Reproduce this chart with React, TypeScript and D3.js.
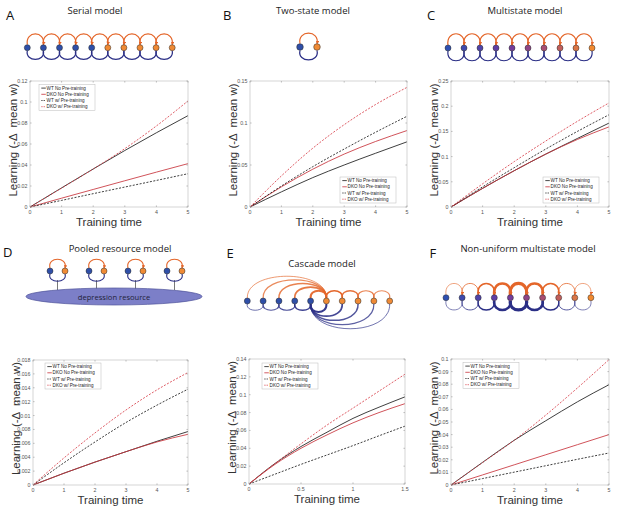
import * as d3 from 'd3';

// ---------- data ----------
const timeFull = [0, 1, 2, 3, 4, 5];
const timeCascade = [0, 0.25, 0.5, 0.75, 1, 1.25, 1.5];
const legendLabels = ['WT No Pre-training', 'DKO No Pre-training', 'WT w/ Pre-training', 'DKO w/ Pre-training'];

// A serial model
const serialWtNo = [0, 0.0182, 0.0362, 0.0538, 0.0707, 0.087];
const serialDkoNo = [0, 0.0084, 0.0167, 0.025, 0.0332, 0.0413];
const serialWtPre = [0, 0.0063, 0.0127, 0.019, 0.0253, 0.0317];
const serialDkoPre = [0, 0.018, 0.0362, 0.0556, 0.0772, 0.101];
// B two-state model
const twoWtNo = [0, 0.018, 0.035, 0.05, 0.064, 0.0776];
const twoDkoNo = [0, 0.024, 0.045, 0.063, 0.078, 0.091];
const twoWtPre = [0, 0.025, 0.048, 0.069, 0.089, 0.108];
const twoDkoPre = [0, 0.037, 0.07, 0.098, 0.122, 0.1424];
// C multistate model
const multiWtNo = [0, 0.037, 0.072, 0.105, 0.136, 0.1665];
const multiDkoNo = [0, 0.037, 0.072, 0.105, 0.134, 0.159];
const multiWtPre = [0, 0.04, 0.078, 0.115, 0.15, 0.183];
const multiDkoPre = [0, 0.046, 0.09, 0.131, 0.17, 0.2065];
// D pooled resource model
const pooledWtNo = [0, 0.0017, 0.0033, 0.0048, 0.0063, 0.0077];
const pooledDkoNo = [0, 0.0017, 0.0033, 0.0048, 0.0062, 0.0073];
const pooledWtPre = [0, 0.0032, 0.0062, 0.009, 0.0115, 0.0138];
const pooledDkoPre = [0, 0.0039, 0.0075, 0.0108, 0.0137, 0.0162];
// E cascade model
const cascadeWtNo = [0, 0.023, 0.042, 0.058, 0.0735, 0.086, 0.0976];
const cascadeDkoNo = [0, 0.022, 0.04, 0.055, 0.0685, 0.08, 0.09];
const cascadeWtPre = [0, 0.011, 0.022, 0.0325, 0.043, 0.054, 0.0648];
const cascadeDkoPre = [0, 0.023, 0.045, 0.066, 0.085, 0.104, 0.123];
// F non-uniform multistate model
const nonuWtNo = [0, 0.018, 0.0355, 0.051, 0.066, 0.0796];
const nonuDkoNo = [0, 0.008, 0.016, 0.024, 0.032, 0.04];
const nonuWtPre = [0, 0.0051, 0.0102, 0.0153, 0.0204, 0.0254];
const nonuDkoPre = [0, 0.0178, 0.0355, 0.0555, 0.077, 0.0995];

const ticksX5 = [0, 1, 2, 3, 4, 5];
const ticksX15 = [0, 0.5, 1, 1.5];
const ticksA = [0, 0.02, 0.04, 0.06, 0.08, 0.1, 0.12];
const ticksB = [0, 0.05, 0.1, 0.15];
const ticksC = [0, 0.05, 0.1, 0.15, 0.2, 0.25];
const ticksD = [0, 0.002, 0.004, 0.006, 0.008, 0.01, 0.012, 0.014, 0.016, 0.018];
const ticksE = [0, 0.02, 0.04, 0.06, 0.08, 0.1, 0.12, 0.14];
const ticksF = [0, 0.01, 0.02, 0.03, 0.04, 0.05, 0.06, 0.07, 0.08, 0.09, 0.1];

// state diagrams
const serialStates = 10;
const multiStates = 10;
const cascadeStates = 10;
const pooledUnits = 4;
const nonuUpWidths = [0.6, 0.8, 1.6, 2.6, 3.2, 2.6, 1.6, 0.8, 0.6];
const nonuDownWidths = [0.6, 0.8, 1.4, 2.6, 3.2, 2.6, 1.4, 0.8, 0.6];

const BLUE = '#2f4fa8';
const ORANGE = '#ef8a35';
const ARC_O = '#e4662a';
const ARC_B = '#2b2f86';

const lineStyles = [
  { color: '#1c1c1c', dash: undefined },
  { color: '#c8343c', dash: undefined },
  { color: '#1c1c1c', dash: '2 1.5' },
  { color: '#d8404a', dash: '2 1.5' },
];

type PanelCfg = {
  box: [number, number, number, number];
  times: number[];
  xMax: number;
  xTicks: number[];
  yTicks: number[];
  series: number[][];
  legend: [number, number];
};

const panels: PanelCfg[] = [
  { box: [30, 81, 188, 207], times: timeFull, xMax: 5, xTicks: ticksX5, yTicks: ticksA,
    series: [serialWtNo, serialDkoNo, serialWtPre, serialDkoPre], legend: [9, 3.5] },
  { box: [250, 81, 407, 207], times: timeFull, xMax: 5, xTicks: ticksX5, yTicks: ticksB,
    series: [twoWtNo, twoDkoNo, twoWtPre, twoDkoPre], legend: [90, 96] },
  { box: [451, 81, 609, 207], times: timeFull, xMax: 5, xTicks: ticksX5, yTicks: ticksC,
    series: [multiWtNo, multiDkoNo, multiWtPre, multiDkoPre], legend: [92, 96] },
  { box: [33, 360, 188, 485], times: timeFull, xMax: 5, xTicks: ticksX5, yTicks: ticksD,
    series: [pooledWtNo, pooledDkoNo, pooledWtPre, pooledDkoPre], legend: [12, 3] },
  { box: [249, 359, 405, 484], times: timeCascade, xMax: 1.5, xTicks: ticksX15, yTicks: ticksE,
    series: [cascadeWtNo, cascadeDkoNo, cascadeWtPre, cascadeDkoPre], legend: [13, 4] },
  { box: [451, 359, 609, 485], times: timeFull, xMax: 5, xTicks: ticksX5, yTicks: ticksF,
    series: [nonuWtNo, nonuDkoNo, nonuWtPre, nonuDkoPre], legend: [12, 3.5] },
];

const headers = [
  { letter: 'A', lx: 6, ly: 20, title: 'Serial model', tx: 95, ty: 14 },
  { letter: 'B', lx: 223, ly: 19.5, title: 'Two-state model', tx: 313, ty: 14 },
  { letter: 'C', lx: 427, ly: 19.5, title: 'Multistate model', tx: 525, ty: 14 },
  { letter: 'D', lx: 3, ly: 256.5, title: 'Pooled resource model', tx: 120, ty: 251.5 },
  { letter: 'E', lx: 226.5, ly: 258, title: 'Cascade model', tx: 322, ty: 267 },
  { letter: 'F', lx: 429.5, ly: 258, title: 'Non-uniform multistate model', tx: 528, ty: 252 },
];

const fmt = d3.format('~g');

function Plot({ p }: { p: PanelCfg }) {
  const [l, t, r, b] = p.box;
  const yMax = p.yTicks[p.yTicks.length - 1];
  const x = d3.scaleLinear().domain([0, p.xMax]).range([l, r]);
  const y = d3.scaleLinear().domain([0, yMax]).range([b, t]);
  const line = d3.line<number>()
    .x((_, i) => x(p.times[i]))
    .y(d => y(d))
    .curve(d3.curveMonotoneX);
  const tk = 1.6;
  const [lx, ly] = [l + p.legend[0], t + p.legend[1]];

  return (
    <g>
      <rect x={l} y={t} width={r - l} height={b - t} fill="#fff" />
      {p.series.map((s, i) => (
        <path key={i} d={line(s) || ''} fill="none" stroke={lineStyles[i].color}
          strokeWidth={0.85} strokeDasharray={lineStyles[i].dash} />
      ))}
      <rect x={l} y={t} width={r - l} height={b - t} fill="none" stroke="#b8b8b8" strokeWidth={0.6} />
      {p.xTicks.map(v => (
        <g key={'x' + v}>
          <line x1={x(v)} x2={x(v)} y1={b} y2={b - tk} stroke="#888" strokeWidth={0.5} />
          <line x1={x(v)} x2={x(v)} y1={t} y2={t + tk} stroke="#888" strokeWidth={0.5} />
          <text x={x(v)} y={b + 6.5} fontSize={5.3} fill="#555" textAnchor="middle">{fmt(v)}</text>
        </g>
      ))}
      {p.yTicks.map(v => (
        <g key={'y' + v}>
          <line x1={l} x2={l + tk} y1={y(v)} y2={y(v)} stroke="#888" strokeWidth={0.5} />
          <line x1={r} x2={r - tk} y1={y(v)} y2={y(v)} stroke="#888" strokeWidth={0.5} />
          <text x={l - 2.5} y={y(v)} fontSize={5.3} fill="#555" textAnchor="end" dominantBaseline="central">{fmt(v)}</text>
        </g>
      ))}
      <g>
        <rect x={lx} y={ly} width={56} height={26} fill="#fff" stroke="#bbb" strokeWidth={0.5} />
        {legendLabels.map((lab, i) => (
          <g key={lab}>
            <line x1={lx + 2.3} x2={lx + 6.8} y1={ly + 3.6 + 6.2 * i} y2={ly + 3.6 + 6.2 * i}
              stroke={lineStyles[i].color} strokeWidth={0.8} strokeDasharray={lineStyles[i].dash ? '1.3 1' : undefined} />
            <text x={lx + 7.6} y={ly + 3.6 + 6.2 * i} fontSize={4.6} fill="#222" dominantBaseline="central">{lab}</text>
          </g>
        ))}
      </g>
      <text transform={`translate(${l - 17},${(t + b) / 2 - 4}) rotate(-90)`} textAnchor="middle"
        dominantBaseline="central" fontSize={11.5} fill="#333" style={{ whiteSpace: 'pre' }}>
        {'Learning (-Δ  mean w)'}
      </text>
      <text x={(l + r) / 2} y={b + 19} textAnchor="middle" fontSize={11.5} fill="#333">Training time</text>
    </g>
  );
}

// arc above from a to b (left to right), arc below from b back to a
function arcUp(xa: number, xb: number, cy: number, r: number, h: number, bulge: number) {
  const c = h / 0.75;
  const s = xb > xa ? 1 : -1;
  return `M${xa},${cy - r} C${xa - s * bulge},${cy - c} ${xb + s * bulge},${cy - c} ${xb},${cy - r}`;
}
function arcDown(xa: number, xb: number, cy: number, r: number, h: number, bulge: number) {
  const c = h / 0.75;
  const s = xb > xa ? 1 : -1;
  return `M${xa},${cy + r} C${xa - s * bulge},${cy + c} ${xb + s * bulge},${cy + c} ${xb},${cy + r}`;
}

function Circles({ xs, cy, colors, r = 3 }: { xs: number[]; cy: number; colors: string[]; r?: number }) {
  return (
    <g>
      {xs.map((cx, i) => (
        <circle key={i} cx={cx} cy={cy} r={r} fill={colors[i]} stroke="#2a2a2a" strokeWidth={0.5} />
      ))}
    </g>
  );
}

function Chain({ x0, step, n, cy, colors, up, down, upW, downW }: {
  x0: number; step: number; n: number; cy: number; colors: string[]; up: number; down: number;
  upW?: number[]; downW?: number[];
}) {
  const xs = d3.range(n).map(i => x0 + i * step);
  const r = 3;
  return (
    <g>
      {d3.range(n - 1).map(i => (
        <path key={'u' + i} d={arcUp(xs[i], xs[i + 1], cy, r, up, step * 0.14)} fill="none"
          stroke={ARC_O} strokeWidth={upW ? upW[i] : 1.2} markerEnd="url(#arrO)" />
      ))}
      {d3.range(n - 1).map(i => (
        <path key={'d' + i} d={arcDown(xs[i + 1], xs[i], cy, r, down, step * 0.14)} fill="none"
          stroke={ARC_B} strokeWidth={downW ? downW[i] : 1.2} />
      ))}
      <Circles xs={xs} cy={cy} colors={colors} />
    </g>
  );
}

const gradient = d3.scaleLinear<string>()
  .domain([0, 0.4, 0.7, 1])
  .range(['#2f4fb0', '#6a3aa2', '#b0506c', '#f28a30']);

function TwoState() {
  const xs = [300, 317];
  const cy = 47;
  return (
    <g>
      <path d={arcUp(xs[0], xs[1], cy, 3.3, 13, 3)} fill="none" stroke={ARC_O} strokeWidth={1.2} markerEnd="url(#arrO)" />
      <path d={arcDown(xs[1], xs[0], cy, 3.3, 12, 3)} fill="none" stroke={ARC_B} strokeWidth={1.2} />
      <Circles xs={xs} cy={cy} colors={[BLUE, ORANGE]} r={3.3} />
    </g>
  );
}

function Pooled() {
  const cy = 271;
  const bx = d3.range(pooledUnits).map(i => 50 + i * 39);
  return (
    <g>
      {bx.map((x, i) => (
        <line key={'s' + i} x1={x + 7.5} x2={x + 7.5} y1={cy + 9} y2={cy + 19} stroke="#555" strokeWidth={0.8} />
      ))}
      <ellipse cx={114} cy={296.5} rx={88} ry={8.5} fill="#7c7fc8" stroke="#4d5199" strokeWidth={0.7} />
      <text x={114} y={296.8} textAnchor="middle" dominantBaseline="central" fontSize={7.6}
        fontFamily="Open Sans, sans-serif" fill="#1f1f3a">depression resource</text>
      {bx.map((x, i) => (
        <g key={i}>
          <path d={arcUp(x, x + 15, cy, 3, 11, 3)} fill="none" stroke={ARC_O} strokeWidth={1.1} markerEnd="url(#arrO)" />
          <path d={arcDown(x + 15, x, cy, 3, 9.5, 3)} fill="none" stroke={ARC_B} strokeWidth={1.1} />
          <Circles xs={[x, x + 15]} cy={cy} colors={[BLUE, ORANGE]} />
        </g>
      ))}
    </g>
  );
}

function Cascade() {
  const cy = 301;
  const xs = d3.range(cascadeStates).map(i => 247.3 + i * 15.82);
  const mid = cascadeStates / 2;
  const widthFor = (d: number) => 2.2 - 0.25 * d;
  return (
    <g>
      {d3.range(mid).map(i => {
        const d = mid - i;
        return (
          <path key={'cu' + i} d={arcUp(xs[i], xs[mid], cy, 3, 6 + 3.6 * d, 1)} fill="none"
            stroke={ARC_O} strokeOpacity={1 - 0.06 * d} strokeWidth={widthFor(d)} />
        );
      })}
      {d3.range(mid, cascadeStates - 1).map(i => (
        <path key={'ou' + i} d={arcUp(xs[i], xs[i + 1], cy, 3, 9.5, 2)} fill="none"
          stroke={ARC_O} strokeWidth={1.5 - 0.15 * (i - mid)} strokeOpacity={1 - 0.08 * (i - mid)} />
      ))}
      {d3.range(mid, cascadeStates).map(j => {
        const d = j - mid + 1;
        return (
          <path key={'cd' + j} d={arcDown(xs[j], xs[mid - 1], cy, 3, 6 + 4.2 * d, 1)} fill="none"
            stroke={ARC_B} strokeOpacity={1 - 0.06 * d} strokeWidth={widthFor(d)} />
        );
      })}
      {d3.range(0, mid - 1).map(i => (
        <path key={'bd' + i} d={arcDown(xs[i + 1], xs[i], cy, 3, 8.5, 2)} fill="none"
          stroke={ARC_B} strokeWidth={0.9 + 0.15 * i} strokeOpacity={0.75 + 0.06 * i} />
      ))}
      <Circles xs={xs} cy={cy} colors={xs.map((_, i) => (i < mid ? BLUE : ORANGE))} />
    </g>
  );
}

export default function App() {
  const serialColors = d3.range(serialStates).map(i => (i < serialStates / 2 ? BLUE : ORANGE));
  const multiColors = d3.range(multiStates).map(i => gradient(i / (multiStates - 1)));
  return (
    <svg width={617} height={514} viewBox="0 0 617 514"
      style={{ position: 'absolute', left: 0, top: 0, background: '#fff' }}
      fontFamily="Liberation Sans, Arial, sans-serif">
      <defs>
        <marker id="arrO" viewBox="0 0 6 6" refX={5} refY={3} markerWidth={3.6} markerHeight={3.6}
          markerUnits="userSpaceOnUse" orient="auto">
          <path d="M0,0 L6,3 L0,6 z" fill={ARC_O} />
        </marker>
      </defs>
      <rect width={617} height={514} fill="#fff" />
      {headers.map(h => (
        <g key={h.letter}>
          <text x={h.lx} y={h.ly} fontSize={13} fontFamily="Open Sans, sans-serif" fill="#111">{h.letter}</text>
          <text x={h.tx} y={h.ty} fontSize={9.5} textAnchor="middle" fontFamily="Open Sans, sans-serif" fill="#222">{h.title}</text>
        </g>
      ))}
      <Chain x0={27.3} step={16.1} n={serialStates} cy={47.7} colors={serialColors} up={13} down={11} />
      <TwoState />
      <Chain x0={448} step={16} n={multiStates} cy={48} colors={multiColors} up={13.5} down={12} />
      <Pooled />
      <Cascade />
      <Chain x0={446} step={16.1} n={multiStates} cy={297.7} colors={multiColors} up={13.5} down={11.5}
        upW={nonuUpWidths} downW={nonuDownWidths} />
      {panels.map((p, i) => <Plot key={i} p={p} />)}
    </svg>
  );
}
